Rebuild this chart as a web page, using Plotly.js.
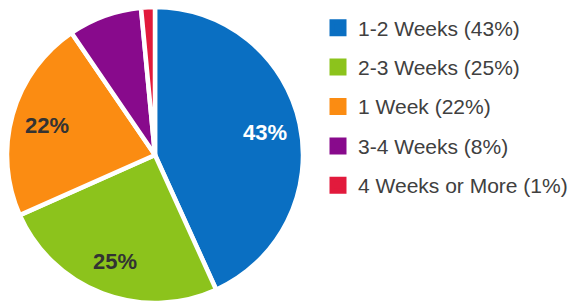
<!DOCTYPE html>
<html>
<head>
<meta charset="utf-8">
<script src="https://cdn.plot.ly/plotly-3.0.1.min.js"></script>
<style>html,body{margin:0;padding:0;background:#fff;}#chart{width:573px;height:304px;}</style>
</head>
<body>
<div id="chart"></div>
<script>
var categories = ['1-2 Weeks', '2-3 Weeks', '1 Week', '3-4 Weeks', '4 Weeks or More'];
var legendPct = ['43%', '25%', '22%', '8%', '1%'];
var values = [43, 25, 22, 8, 1.5];
var sliceLabels = ['43%', '25%', '22%', '', ''];
var colors = ['#0a6fc2', '#8cc31c', '#fb8c12', '#880a8c', '#e21a3c'];
var labelColors = ['#ffffff', '#333333', '#333333', '#333333', '#333333'];

var W = 573, H = 304;
var dom = {x: [7 / W, 303 / W], y: [1 / H, 297 / H]};

var legendLabels = categories.map(function (c, i) {
  return '<span style="font-size:21px;baseline-shift:3px">' + c + ' (' + legendPct[i] + ')</span>';
});

// legend-only copy of the pie: its slice outline matches the fill so the legend squares are full size.
// It is drawn tiny and underneath the main pie.
var legendTrace = {
  type: 'pie',
  labels: legendLabels,
  values: values,
  textinfo: 'none',
  sort: false,
  direction: 'clockwise',
  marker: {colors: colors, line: {color: colors, width: 5}},
  hoverinfo: 'none',
  showlegend: true,
  domain: {x: [239 / W, 240 / W], y: [150 / H, 151 / H]}
};

var trace = {
  type: 'pie',
  labels: legendLabels,
  values: values,
  textinfo: 'none',
  sort: false,
  direction: 'clockwise',
  rotation: 0,
  marker: {colors: colors, line: {color: '#ffffff', width: 4.5}},
  hoverinfo: 'none',
  showlegend: false,
  domain: dom
};

// slice labels placed along each slice's mid-angle (derived from the values)
var total = values.reduce(function (a, b) { return a + b; }, 0);
var cx = (dom.x[0] + dom.x[1]) / 2, cy = (dom.y[0] + dom.y[1]) / 2;
var Rpx = Math.min((dom.x[1] - dom.x[0]) * W, (dom.y[1] - dom.y[0]) * H) / 2;
var annotations = [];
var cum = 0;
values.forEach(function (v, i) {
  var mid = (cum + v / 2) / total * 2 * Math.PI;
  cum += v;
  if (!sliceLabels[i]) return;
  var r = 0.76 * Rpx;
  annotations.push({
    xref: 'paper', yref: 'paper',
    x: cx + r * Math.sin(mid) / W,
    y: cy + r * Math.cos(mid) / H,
    yshift: -1,
    text: sliceLabels[i], showarrow: false,
    xanchor: 'center', yanchor: 'middle',
    font: {family: 'Liberation Sans, Arial, sans-serif', size: 22, color: labelColors[i], weight: 'bold'}
  });
});

var layout = {
  width: W,
  height: H,
  margin: {l: 0, r: 0, t: 0, b: 0},
  paper_bgcolor: '#ffffff',
  showlegend: true,
  annotations: annotations,
  legend: {
    x: 318 / W, xanchor: 'left',
    y: 1 - 3 / H, yanchor: 'top',
    font: {family: 'Liberation Sans, Arial, sans-serif', size: 28, color: '#404040'},
    bgcolor: 'rgba(0,0,0,0)'
  }
};

Plotly.newPlot('chart', [legendTrace, trace], layout, {displayModeBar: false, staticPlot: true});
</script>
</body>
</html>
